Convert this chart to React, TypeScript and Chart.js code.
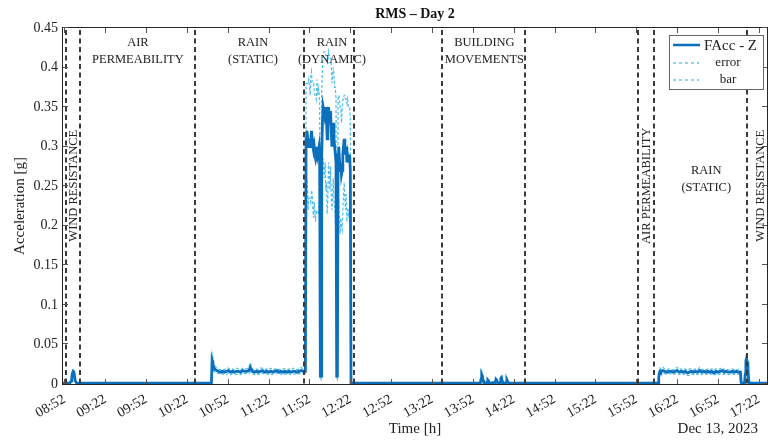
import React, { useEffect, useRef } from "react";
import { Chart, registerables } from "chart.js";

Chart.register(...registerables);

// ---- axis ticks (x in minutes after 08:52) ----
const xTickValues = [0, 30, 60, 90, 120, 150, 180, 210, 240, 270, 300, 330, 360, 390, 420, 450, 480, 510];
const xTickLabels = ["08:52", "09:22", "09:52", "10:22", "10:52", "11:22", "11:52", "12:22", "12:52", "13:22", "13:52", "14:22", "14:52", "15:22", "15:52", "16:22", "16:52", "17:22"];
const yTickValues = [0, 0.05, 0.1, 0.15, 0.2, 0.25, 0.3, 0.35, 0.4, 0.45];
const yTickLabels = ["0", "0.05", "0.1", "0.15", "0.2", "0.25", "0.3", "0.35", "0.4", "0.45"];

// ---- data: RMS FAcc - Z (g) and its standard deviation ----
// segment A: wind resistance / air permeability
const timesA = [-1, 2, 4, 5, 5.5, 6, 6.5, 7, 7.5, 8, 9, 12, 30, 60, 90, 107.5];
const faccA = [0.001, 0.001, 0.001, 0.004, 0.010, 0.014, 0.016, 0.015, 0.010, 0.004, 0.001, 0.001, 0.001, 0.001, 0.001, 0.001];
const sdA = [0.0005, 0.0005, 0.0005, 0.001, 0.002, 0.002, 0.002, 0.002, 0.002, 0.001, 0.0005, 0.0005, 0.0005, 0.0005, 0.0005, 0.0005];

// segment B: rain (static)
const timesB = [
  108, 108.5, 109, 109.5, 110, 111, 112, 113, 114.5, 116,
  117.5, 119, 120.5, 122, 123.5, 125, 126.5, 128, 129.5, 131,
  132.5, 134, 135.5, 136.5, 138, 139.5, 141, 142.5, 144, 145.5,
  147, 148.5, 150, 151.5, 153, 154.5, 156, 157.5, 159, 160.5,
  162, 163.5, 165, 166.5, 168, 169.5, 171, 172.5, 174, 175.5,
  177,
];
const faccB = [
  0.001, 0.030, 0.027, 0.022, 0.020, 0.018, 0.017, 0.016, 0.015, 0.016,
  0.015, 0.016, 0.017, 0.015, 0.016, 0.015, 0.016, 0.016, 0.015, 0.017,
  0.016, 0.016, 0.017, 0.021, 0.016, 0.015, 0.016, 0.015, 0.016, 0.017,
  0.015, 0.016, 0.015, 0.016, 0.015, 0.016, 0.017, 0.015, 0.016, 0.015,
  0.016, 0.015, 0.016, 0.015, 0.016, 0.016, 0.015, 0.016, 0.017, 0.016,
  0.016,
];
const sdB = [
  0.0005, 0.008, 0.007, 0.005, 0.004, 0.004, 0.003, 0.003, 0.003, 0.003,
  0.003, 0.004, 0.003, 0.003, 0.003, 0.003, 0.004, 0.003, 0.003, 0.003,
  0.003, 0.003, 0.004, 0.006, 0.003, 0.003, 0.003, 0.003, 0.004, 0.003,
  0.003, 0.003, 0.003, 0.004, 0.003, 0.003, 0.003, 0.003, 0.003, 0.004,
  0.003, 0.003, 0.003, 0.003, 0.004, 0.003, 0.003, 0.003, 0.004, 0.003,
  0.003,
];

// segment C: rain (dynamic)
const timesC = [
  177.5, 178, 178.5, 179, 179.5, 180, 180.5, 181, 181.5, 182,
  182.5, 183, 183.5, 184, 184.5, 185, 185.5, 186, 186.5, 187,
  187.5, 188, 188.5, 189, 189.5, 190, 190.5, 191, 191.5, 192,
  192.5, 193, 193.5, 194, 194.5, 195, 195.5, 196, 196.5, 197,
  197.5, 198, 198.5, 199, 199.5, 200, 200.5, 201, 201.5, 202,
  202.5, 203, 203.5, 204, 204.5, 205, 205.5, 206, 206.5, 207,
  207.5, 208, 208.5, 209, 209.5, 210, 210.5,
];
const faccC = [
  0.310, 0.320, 0.315, 0.300, 0.310, 0.305, 0.300, 0.310, 0.320, 0.310,
  0.300, 0.295, 0.300, 0.290, 0.285, 0.290, 0.300, 0.290, 0.295, 0.300,
  0.280, 0.010, 0.010, 0.290, 0.330, 0.350, 0.345, 0.340, 0.350, 0.330,
  0.335, 0.310, 0.320, 0.350, 0.340, 0.330, 0.345, 0.320, 0.300, 0.315,
  0.330, 0.310, 0.300, 0.290, 0.280, 0.010, 0.010, 0.290, 0.300, 0.285,
  0.270, 0.280, 0.265, 0.270, 0.290, 0.300, 0.310, 0.300, 0.290, 0.300,
  0.280, 0.290, 0.285, 0.280, 0.290, 0.270, 0.001,
];
const sdC = [
  0.070, 0.060, 0.065, 0.080, 0.075, 0.070, 0.065, 0.080, 0.075, 0.070,
  0.080, 0.085, 0.070, 0.075, 0.080, 0.070, 0.085, 0.075, 0.080, 0.070,
  0.075, 0.005, 0.005, 0.080, 0.070, 0.065, 0.075, 0.080, 0.070, 0.085,
  0.080, 0.095, 0.085, 0.070, 0.075, 0.085, 0.070, 0.085, 0.080, 0.075,
  0.070, 0.080, 0.075, 0.085, 0.080, 0.005, 0.005, 0.070, 0.065, 0.075,
  0.080, 0.070, 0.065, 0.075, 0.070, 0.060, 0.055, 0.065, 0.070, 0.060,
  0.075, 0.070, 0.065, 0.070, 0.060, 0.065, 0.0005,
];

// segment D: building movements
const timesD = [
  212, 240, 270, 300, 305.5, 306, 306.5, 307, 307.5, 308,
  309.5, 310.5, 311, 311.5, 312, 313, 316.5, 317, 317.5, 318,
  319, 320, 320.5, 321, 321.5, 322, 323.5, 324.5, 325, 325.5,
  326.5, 340, 380, 420, 435,
];
const faccD = [
  0.001, 0.001, 0.001, 0.001, 0.001, 0.006, 0.012, 0.010, 0.005, 0.002,
  0.001, 0.002, 0.005, 0.004, 0.001, 0.001, 0.002, 0.006, 0.005, 0.002,
  0.001, 0.002, 0.007, 0.008, 0.004, 0.001, 0.001, 0.002, 0.005, 0.003,
  0.001, 0.001, 0.001, 0.001, 0.001,
];
const sdD = [
  0.0005, 0.0005, 0.0005, 0.0005, 0.0005, 0.002, 0.004, 0.003, 0.002, 0.001,
  0.0005, 0.001, 0.002, 0.002, 0.0005, 0.0005, 0.001, 0.002, 0.002, 0.001,
  0.0005, 0.001, 0.002, 0.002, 0.002, 0.0005, 0.0005, 0.001, 0.002, 0.001,
  0.0005, 0.0005, 0.0005, 0.0005, 0.0005,
];

// segment E: rain (static), second run
const timesE = [
  436, 436.5, 437, 437.5, 438, 439.5, 441, 442.5, 444, 445.5,
  447, 448.5, 450, 451.5, 453, 454.5, 456, 457.5, 459, 460.5,
  462, 463.5, 465, 466.5, 468, 469.5, 471, 472.5, 474, 475.5,
  477, 478.5, 480, 481.5, 483, 484.5, 486, 487.5, 489, 490.5,
  492, 493.5, 495, 496.5, 497,
];
const faccE = [
  0.001, 0.008, 0.014, 0.016, 0.015, 0.017, 0.016, 0.015, 0.016, 0.016,
  0.015, 0.016, 0.017, 0.015, 0.016, 0.015, 0.016, 0.014, 0.015, 0.016,
  0.015, 0.016, 0.015, 0.017, 0.015, 0.016, 0.015, 0.016, 0.015, 0.016,
  0.014, 0.016, 0.015, 0.016, 0.017, 0.015, 0.016, 0.015, 0.015, 0.016,
  0.015, 0.016, 0.015, 0.015, 0.002,
];
const sdE = [
  0.0005, 0.003, 0.003, 0.004, 0.003, 0.004, 0.003, 0.003, 0.003, 0.003,
  0.003, 0.003, 0.004, 0.003, 0.003, 0.003, 0.003, 0.003, 0.004, 0.003,
  0.003, 0.003, 0.003, 0.004, 0.003, 0.003, 0.003, 0.003, 0.003, 0.003,
  0.003, 0.003, 0.004, 0.003, 0.004, 0.003, 0.003, 0.003, 0.003, 0.003,
  0.003, 0.003, 0.003, 0.003, 0.001,
];

// segment F: wind resistance
const timesF = [497.5, 499.5, 500, 500.5, 501, 501.5, 502, 502.5, 503, 505, 516];
const faccF = [0.001, 0.001, 0.012, 0.030, 0.032, 0.028, 0.020, 0.006, 0.001, 0.001, 0.001];
const sdF = [0.0005, 0.0005, 0.004, 0.006, 0.007, 0.006, 0.004, 0.002, 0.0005, 0.0005, 0.0005];

// ---- test section annotations ----
const sectionLines = [1.5, 11.7, 96, 176, 213, 277, 338, 421, 433, 501];
const regionLabelLines = [
  ["AIR", "PERMEABILITY"],
  ["RAIN", "(STATIC)"],
  ["RAIN", "(DYNAMIC)"],
  ["BUILDING", "MOVEMENTS"],
  ["RAIN", "(STATIC)"],
];
const regionLabelX = [54, 138.5, 196.5, 308.5, 471.4];
const regionLabelY = [0.432, 0.432, 0.432, 0.432, 0.2696];
const rotatedLabels = ["WIND RESISTANCE", "AIR PERMEABILITY", "WIND RESISTANCE"];
const rotatedX = [6.6, 428, 511.7];
const rotatedY = [0.2506, 0.2506, 0.2506];

const chartTitle = "RMS \u2013 Day 2";
const xTitle = "Time [h]";
const yTitle = "Acceleration [g]";
const dateLabel = "Dec 13, 2023";
const legendLabels = ["FAcc - Z", "error", "bar"];

const FONT = "'Liberation Serif', 'Times New Roman', serif";
const MAIN_COLOR = "#0a6fbd";
const ERR_COLOR = "#4dbeee";

const framePlugin = {
  id: "matlabFrame",
  afterDraw(chart: any) {
    const { ctx, chartArea: a, scales } = chart;
    const xs = scales.x;
    const ys = scales.y;
    ctx.save();

    // dashed section separators
    ctx.strokeStyle = "#3a3a3a";
    ctx.lineWidth = 2;
    ctx.setLineDash([5, 3.5]);
    for (const t of sectionLines) {
      const px = Math.round(xs.getPixelForValue(t));
      ctx.beginPath();
      ctx.moveTo(px, a.top + 2);
      ctx.lineTo(px, a.bottom);
      ctx.stroke();
    }
    ctx.setLineDash([]);

    // box
    ctx.strokeStyle = "#262626";
    ctx.lineWidth = 1;
    ctx.strokeRect(a.left - 0.5, a.top - 0.5, a.right - a.left + 1, a.bottom - a.top + 1);

    // inward ticks
    ctx.strokeStyle = "#555";
    ctx.beginPath();
    for (const v of yTickValues) {
      const py = Math.round(ys.getPixelForValue(v)) - 0.5;
      ctx.moveTo(a.left, py);
      ctx.lineTo(a.left + 5, py);
      ctx.moveTo(a.right, py);
      ctx.lineTo(a.right - 5, py);
    }
    for (const v of xTickValues) {
      const px = Math.round(xs.getPixelForValue(v)) + 0.5;
      ctx.moveTo(px, a.bottom);
      ctx.lineTo(px, a.bottom - 5);
      ctx.moveTo(px, a.top);
      ctx.lineTo(px, a.top + 5);
    }
    ctx.stroke();

    // region labels
    ctx.fillStyle = "#222";
    ctx.font = `12.5px ${FONT}`;
    ctx.textAlign = "center";
    ctx.textBaseline = "middle";
    regionLabelLines.forEach((lines, i) => {
      const px = xs.getPixelForValue(regionLabelX[i]);
      const py = ys.getPixelForValue(regionLabelY[i]);
      lines.forEach((s, j) => ctx.fillText(s, px, py + j * 17));
    });
    rotatedLabels.forEach((s, i) => {
      ctx.save();
      ctx.translate(xs.getPixelForValue(rotatedX[i]), ys.getPixelForValue(rotatedY[i]));
      ctx.rotate(-Math.PI / 2);
      ctx.fillText(s, 0, 0);
      ctx.restore();
    });

    // legend
    const lx = 669, ly = 35, lw = 94, lh = 54;
    ctx.fillStyle = "#fff";
    ctx.fillRect(lx, ly, lw, lh);
    ctx.strokeStyle = "#666";
    ctx.lineWidth = 1;
    ctx.strokeRect(lx + 0.5, ly + 0.5, lw, lh);
    ctx.strokeStyle = MAIN_COLOR;
    ctx.lineWidth = 2.5;
    ctx.beginPath();
    ctx.moveTo(lx + 4, ly + 10);
    ctx.lineTo(lx + 31, ly + 10);
    ctx.stroke();
    ctx.lineWidth = 1.3;
    ctx.setLineDash([3, 3]);
    for (const yy of [ly + 28, ly + 45]) {
      ctx.strokeStyle = ERR_COLOR;
      ctx.beginPath();
      ctx.moveTo(lx + 4, yy);
      ctx.lineTo(lx + 30, yy);
      ctx.stroke();
    }
    ctx.setLineDash([]);
    ctx.fillStyle = "#222";
    ctx.textAlign = "left";
    ctx.font = `15px ${FONT}`;
    ctx.fillText(legendLabels[0], lx + 35, ly + 11);
    ctx.textAlign = "center";
    ctx.font = `13px ${FONT}`;
    ctx.fillText(legendLabels[1], lx + 59, ly + 28);
    ctx.fillText(legendLabels[2], lx + 59, ly + 45);

    // titles
    const cx = (a.left + a.right) / 2;
    ctx.fillStyle = "#111";
    ctx.font = `bold 14px ${FONT}`;
    ctx.textAlign = "center";
    ctx.fillText(chartTitle, cx, 14);
    ctx.font = `15px ${FONT}`;
    ctx.fillStyle = "#222";
    ctx.fillText(xTitle, cx, 429);
    ctx.textAlign = "right";
    ctx.fillText(dateLabel, 758, 429);
    ctx.save();
    ctx.translate(20, 206);
    ctx.rotate(-Math.PI / 2);
    ctx.textAlign = "center";
    ctx.fillText(yTitle, 0, 0);
    ctx.restore();

    ctx.restore();
  },
};

export default function App() {
  const ref = useRef<HTMLCanvasElement | null>(null);

  useEffect(() => {
    if (!ref.current) return;
    const times = [...timesA, ...timesB, ...timesC, ...timesD, ...timesE, ...timesF];
    const facc = [...faccA, ...faccB, ...faccC, ...faccD, ...faccE, ...faccF];
    const sd = [...sdA, ...sdB, ...sdC, ...sdD, ...sdE, ...sdF];
    const mainPts = times.map((t, i) => ({ x: t, y: facc[i] }));
    const upperPts = times.map((t, i) => ({ x: t, y: facc[i] + sd[i] }));
    const lowerPts = times.map((t, i) => ({ x: t, y: Math.max(0, facc[i] - sd[i]) }));

    const chart = new Chart(ref.current, {
      type: "line",
      data: {
        datasets: [
          {
            label: legendLabels[0],
            data: mainPts,
            borderColor: MAIN_COLOR,
            borderWidth: 2.8,
            pointRadius: 0,
            tension: 0,
            order: 0,
          },
          {
            label: legendLabels[1],
            data: upperPts,
            borderColor: ERR_COLOR,
            borderWidth: 1.2,
            borderDash: [3, 2],
            pointRadius: 0,
            tension: 0,
            order: 1,
          },
          {
            label: legendLabels[2],
            data: lowerPts,
            borderColor: ERR_COLOR,
            borderWidth: 1.2,
            borderDash: [3, 2],
            pointRadius: 0,
            tension: 0,
            order: 2,
          },
        ],
      },
      options: {
        animation: false,
        responsive: false,
        parsing: false as any,
        layout: { padding: { top: 28, right: 2, left: 0, bottom: 0 } },
        plugins: { legend: { display: false }, tooltip: { enabled: false }, title: { display: false } },
        scales: {
          x: {
            type: "linear",
            min: -1,
            max: 516,
            grid: { display: false, drawTicks: false },
            border: { display: false },
            afterBuildTicks: (s: any) => {
              s.ticks = xTickValues.map((v) => ({ value: v }));
            },
            afterFit: (s: any) => {
              s.height = 56;
              s.paddingLeft = 0;
              s.paddingRight = 0;
            },
            ticks: {
              autoSkip: false,
              minRotation: 30,
              maxRotation: 30,
              padding: 7,
              color: "#222",
              font: { family: FONT, size: 14 },
              callback: (_v: any, i: number) => xTickLabels[i],
            },
          },
          y: {
            type: "linear",
            min: 0,
            max: 0.45,
            grid: { display: false, drawTicks: false },
            border: { display: false },
            afterBuildTicks: (s: any) => {
              s.ticks = yTickValues.map((v) => ({ value: v }));
            },
            afterFit: (s: any) => {
              s.width = 63;
              s.paddingTop = 0;
              s.paddingBottom = 0;
            },
            ticks: {
              padding: 5,
              color: "#222",
              font: { family: FONT, size: 14 },
              callback: (_v: any, i: number) => yTickLabels[i],
            },
          },
        },
      },
      plugins: [framePlugin],
    });
    return () => chart.destroy();
  }, []);

  return (
    <div style={{ position: "fixed", left: 0, top: 0, width: 769, height: 440, background: "#fff" }}>
      <canvas ref={ref} width={769} height={440} style={{ display: "block", width: 769, height: 440 }} />
    </div>
  );
}
